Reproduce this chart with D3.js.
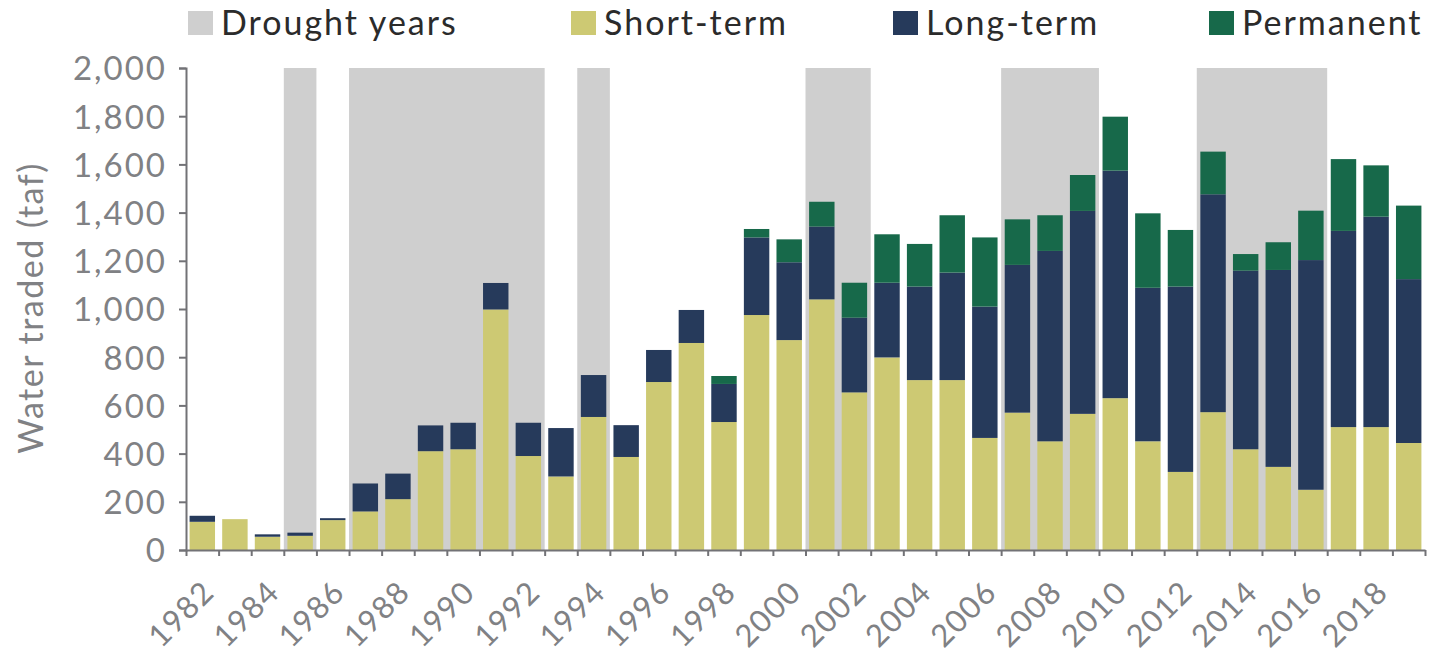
<!DOCTYPE html>
<html><head><meta charset="utf-8">
<script src="https://cdn.jsdelivr.net/npm/d3@7"></script>
<style>
html,body{margin:0;padding:0;background:#fff;}
svg{display:block;}
text{font-family:Lato,"Open Sans",sans-serif;}
</style></head>
<body><svg id="c" width="1432" height="657"></svg>
<script>
const years = d3.range(1982, 2020);
const shortTerm = [117,128,55,59,124,160,211,410,418,998,390,305,552,386,697,859,531,975,871,1040,654,799,705,705,465,570,451,565,630,451,324,572,418,345,250,510,510,444];
const longTerm  = [25,0,10,13,8,116,106,107,110,110,138,201,174,132,133,137,158,322,323,302,310,310,388,446,545,613,790,842,944,637,769,904,741,817,953,814,873,680];
const permanent = [0,0,0,0,0,0,0,0,0,0,0,0,0,0,0,0,33,35,95,103,145,201,177,238,287,189,148,149,224,309,235,177,69,115,205,298,213,305];
const droughtYears = [1985,1987,1988,1989,1990,1991,1992,1994,2001,2002,2007,2008,2009,2013,2014,2015,2016];
const xTickLabels = ["1982","1984","1986","1988","1990","1992","1994","1996","1998","2000","2002","2004","2006","2008","2010","2012","2014","2016","2018"];
const yTicks = [0,200,400,600,800,1000,1200,1400,1600,1800,2000];
const seriesNames = ["Short-term","Long-term","Permanent"];
const legendItems = ["Drought years","Short-term","Long-term","Permanent"];

const colors = {"Drought years":"#cfcfcf","Short-term":"#cdc973","Long-term":"#263a5b","Permanent":"#17694a"};
const axisColor = "#727276";
const tickText = "#808184";

const L = 186, R = 1425, T = 68, B = 550;
const svg = d3.select("#c");

const x = d3.scaleBand().domain(years).range([L, R]).paddingInner(0.22).paddingOuter(0.11);
const xEdge = d3.scaleLinear().domain([1982, 2020]).range([L, R]);
const y = d3.scaleLinear().domain([0, 2000]).range([B, T]);

// drought shading: merge consecutive years into runs
const runs = [];
droughtYears.forEach(yr => {
  const last = runs[runs.length - 1];
  if (last && last[1] === yr) last[1] = yr + 1; else runs.push([yr, yr + 1]);
});
svg.append("g").selectAll("rect").data(runs).join("rect")
  .attr("x", d => xEdge(d[0])).attr("width", d => xEdge(d[1]) - xEdge(d[0]))
  .attr("y", y(2000)).attr("height", y(0) - y(2000))
  .attr("fill", colors["Drought years"]);

// stacked bars
const rows = years.map((yr, i) => ({year: yr, "Short-term": shortTerm[i], "Long-term": longTerm[i], "Permanent": permanent[i]}));
const stack = d3.stack().keys(seriesNames)(rows);
svg.append("g").selectAll("g").data(stack).join("g")
  .attr("fill", s => colors[s.key])
  .selectAll("rect").data(s => s).join("rect")
  .attr("x", d => x(d.data.year)).attr("width", x.bandwidth())
  .attr("y", d => y(d[1])).attr("height", d => y(d[0]) - y(d[1]));

// y axis
const yAxis = svg.append("g").attr("transform", `translate(${L},0)`)
  .call(d3.axisLeft(y).tickValues(yTicks).tickFormat(d3.format(",")).tickSize(7).tickSizeOuter(7).tickPadding(12));
yAxis.selectAll("path,line").attr("stroke", axisColor).attr("stroke-width", 2);
yAxis.selectAll("text").attr("fill", tickText).style("font-size", "33px").style("letter-spacing", "2px").attr("dy", "0.36em");

// x axis
const xAxis = svg.append("g").attr("transform", `translate(0,${B})`)
  .call(d3.axisBottom(xEdge).tickValues(d3.range(1982, 2021)).tickFormat("").tickSize(6).tickSizeOuter(0));
xAxis.selectAll("path,line").attr("stroke", axisColor).attr("stroke-width", 2);

svg.append("g").selectAll("text").data(xTickLabels).join("text")
  .attr("transform", d => `translate(${x(+d) + x.bandwidth()/2 + 14},594) rotate(-45)`)
  .attr("text-anchor", "end").attr("fill", tickText).style("font-size", "31px").style("letter-spacing", "1.5px")
  .text(d => d);

// y title
svg.append("text").attr("transform", "translate(43,308) rotate(-90)")
  .attr("text-anchor", "middle").attr("fill", tickText).style("font-size", "34px").style("letter-spacing", "1.5px")
  .text("Water traded (taf)");

// legend
const legendX = [188, 571, 893, 1209];
const lg = svg.append("g").selectAll("g").data(legendItems).join("g")
  .attr("transform", (d, i) => `translate(${legendX[i]},0)`);
lg.append("rect").attr("x", 0).attr("y", 11).attr("width", 25).attr("height", 24).attr("fill", d => colors[d]);
lg.append("text").attr("x", 33).attr("y", 35).attr("fill", "#2b2b2b").style("font-size", "34px").style("letter-spacing", "2px").text(d => d);
</script></body></html>
